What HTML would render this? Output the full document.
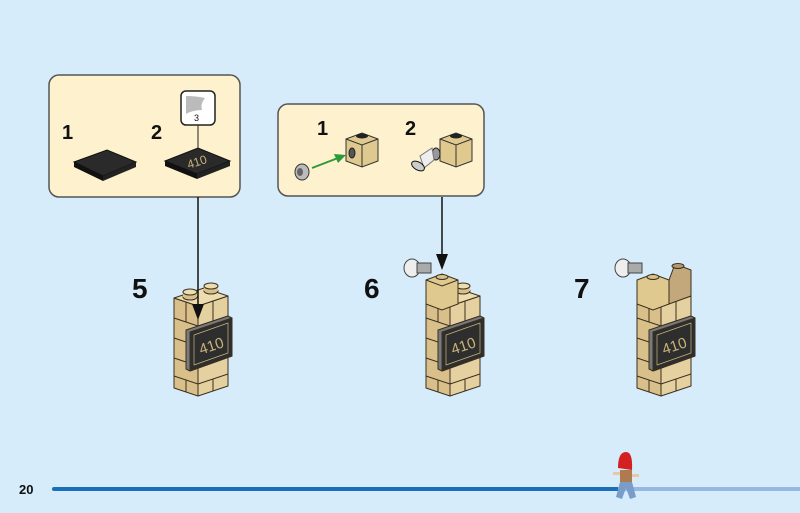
<!DOCTYPE html>
<html><head><meta charset="utf-8"><style>
html,body{margin:0;padding:0;background:#d6ecfb;}
svg{display:block}
text{font-family:"Liberation Sans",sans-serif;font-weight:bold;fill:#111}
</style></head><body>
<svg width="800" height="513" viewBox="0 0 800 513" xmlns="http://www.w3.org/2000/svg">
<rect width="800" height="513" fill="#d6ecfb"/>
<defs>
<g id="col" stroke="#3a3020" stroke-width="1" stroke-linejoin="round">
  <polygon points="174,298 198,306 198,396 174,388" fill="#d9c08a"/>
  <polygon points="198,306 228,296 228,386 198,396" fill="#e5d1a0"/>
  <polygon points="174,298 204,288 228,296 198,306" fill="#ecdcb0"/>
  <g fill="none">
    <path d="M174,318 L198,326 L228,316"/>
    <path d="M174,338 L198,346 L228,336"/>
    <path d="M174,358 L198,366 L228,356"/>
    <path d="M174,376 L198,384 L228,374"/>
    <path d="M186,302 L186,322 M186,342 L186,362 M186,380 L186,392"/>
    <path d="M213,301 L213,321 M213,341 L213,361 M213,379 L213,391"/>
  </g>
  <ellipse cx="190" cy="297" rx="7" ry="3" fill="#d9c08a"/>
  <rect x="183" y="292" width="14" height="5" fill="#d9c08a" stroke="none"/>
  <ellipse cx="190" cy="292" rx="7" ry="3" fill="#ecdcb0"/>
  <ellipse cx="211" cy="291" rx="7" ry="3" fill="#d9c08a"/>
  <rect x="204" y="286" width="14" height="5" fill="#d9c08a" stroke="none"/>
  <ellipse cx="211" cy="286" rx="7" ry="3" fill="#ecdcb0"/>
  <polygon points="186,330 228,316 232,318 232,356 190,371 186,369" fill="#7a7a7a"/>
  <polygon points="190,332 232,318 232,356 190,371" fill="#2e2e2e"/>
  <polygon points="194,335 228,323 228,353 194,365" fill="none" stroke="#c8b47a" stroke-width="0.7"/>
  <text x="211" y="351" text-anchor="middle" transform="rotate(-18 211 345)" style="font-weight:normal;font-size:15px;fill:#c8b47a;stroke:none">410</text>
</g>
</defs>

<rect x="49" y="75" width="191" height="122" rx="10" fill="#fdf2cd" stroke="#555" stroke-width="1.5"/>
<text x="62" y="139" font-size="20">1</text>
<polygon points="74,162 107,150 136,162 103,176" fill="#2a2a2a" stroke="#111"/>
<polygon points="74,162 103,176 103,181 74,167" fill="#111"/>
<polygon points="103,176 136,162 136,167 103,181" fill="#222"/>
<text x="151" y="139" font-size="20">2</text>
<polygon points="165,161 198,148 230,161 197,174" fill="#2a2a2a" stroke="#111"/>
<polygon points="165,161 197,174 197,179 165,166" fill="#111"/>
<polygon points="197,174 230,161 230,166 197,179" fill="#222"/>
<text x="197" y="166" text-anchor="middle" transform="rotate(-18 197 162)" font-size="12" style="font-weight:normal;fill:#c8b47a">410</text>
<rect x="181" y="91" width="34" height="34" rx="5" fill="#fff" stroke="#222" stroke-width="1.5"/>
<path d="M186,96 Q196,96 205,98 Q200,104 202,110 Q193,110 186,114 Z" fill="#bbb"/>
<text x="194" y="121" font-size="9" style="font-weight:normal">3</text>
<line x1="198" y1="125" x2="198" y2="149" stroke="#222" stroke-width="1"/>

<rect x="278" y="104" width="206" height="92" rx="10" fill="#fdf2cd" stroke="#555" stroke-width="1.5"/>
<text x="317" y="135" font-size="20">1</text>
<text x="405" y="135" font-size="20">2</text>
<polygon points="346,139 362,133 378,139 378,161 362,167 346,161" fill="#e0c98f" stroke="#333"/>
<path d="M346,139 L362,145 L378,139 M362,145 L362,167" fill="none" stroke="#333"/>
<ellipse cx="362" cy="136" rx="6" ry="2.5" fill="#222"/>
<ellipse cx="352" cy="153" rx="3" ry="5" fill="#555" stroke="#222"/>
<ellipse cx="302" cy="172" rx="7" ry="8" fill="#bbb" stroke="#333"/>
<ellipse cx="300" cy="172" rx="3" ry="4" fill="#666"/>
<line x1="312" y1="168" x2="338" y2="158" stroke="#2a9a3a" stroke-width="2"/>
<polygon points="346,155 334,154 338,163" fill="#2a9a3a"/>
<polygon points="440,139 456,133 472,139 472,161 456,167 440,161" fill="#e0c98f" stroke="#333"/>
<path d="M440,139 L456,145 L472,139 M456,145 L456,167" fill="none" stroke="#333"/>
<ellipse cx="456" cy="136" rx="6" ry="2.5" fill="#222"/>
<ellipse cx="436" cy="154" rx="4" ry="6" fill="#999" stroke="#222"/>
<polygon points="432,148 420,156 424,168 434,160" fill="#eee" stroke="#777"/>
<ellipse cx="418" cy="166" rx="7" ry="4" fill="#ccc" stroke="#111" transform="rotate(30 418 166)"/>

<text x="132" y="298" font-size="28">5</text>
<text x="364" y="298" font-size="28">6</text>
<text x="574" y="298" font-size="28">7</text>

<use href="#col"/>
<g transform="translate(252,0)">
  <ellipse cx="160" cy="268" rx="8" ry="9" fill="#eee" stroke="#444"/>
  <rect x="165" y="263" width="14" height="10" fill="#aaa" stroke="#444"/>
  <use href="#col"/>
  <polygon points="174,280 190,274 206,280 206,304 190,310 174,304" fill="#e0c98f" stroke="#3a3020"/>
  <path d="M174,280 L190,286 L206,280" fill="none" stroke="#3a3020"/>
  <ellipse cx="190" cy="277" rx="6" ry="2.5" fill="#d9c08a" stroke="#3a3020"/>
</g>
<g transform="translate(463,0)">
  <ellipse cx="160" cy="268" rx="8" ry="9" fill="#eee" stroke="#444"/>
  <rect x="165" y="263" width="14" height="10" fill="#aaa" stroke="#444"/>
  <use href="#col"/>
  <polygon points="174,280 190,274 206,280 206,304 190,310 174,304" fill="#e0c98f" stroke="#3a3020"/>
  <polygon points="206,280 212,264 228,270 228,296 206,304" fill="#c2a87a" stroke="#3a3020"/>
  <ellipse cx="190" cy="277" rx="6" ry="2.5" fill="#d9c08a" stroke="#3a3020"/>
  <ellipse cx="215" cy="266" rx="6" ry="2.5" fill="#b39a6e" stroke="#3a3020"/>
</g>

<line x1="198" y1="197" x2="198" y2="306" stroke="#111" stroke-width="1.5"/>
<polygon points="192,304 204,304 198,320" fill="#111"/>
<line x1="442" y1="197" x2="442" y2="256" stroke="#111" stroke-width="1.5"/>
<polygon points="436,254 448,254 442,270" fill="#111"/>

<text x="19" y="494" font-size="13">20</text>
<line x1="54" y1="489" x2="618" y2="489" stroke="#1a6fb8" stroke-width="4" stroke-linecap="round"/>
<line x1="618" y1="489" x2="800" y2="489" stroke="#93b8e2" stroke-width="4"/>
<path d="M618,468 Q618,452 626,452 Q633,452 632,470 Z" fill="#d42020"/>
<rect x="620" y="470" width="12" height="12" fill="#b07a50"/>
<rect x="613" y="472" width="7" height="3" fill="#e8c8a0"/>
<rect x="632" y="474" width="7" height="3" fill="#e8c8a0"/>
<polygon points="620,482 632,482 636,497 630,499 626,488 622,499 616,497" fill="#7a9cc8"/>
</svg>
</body></html>
